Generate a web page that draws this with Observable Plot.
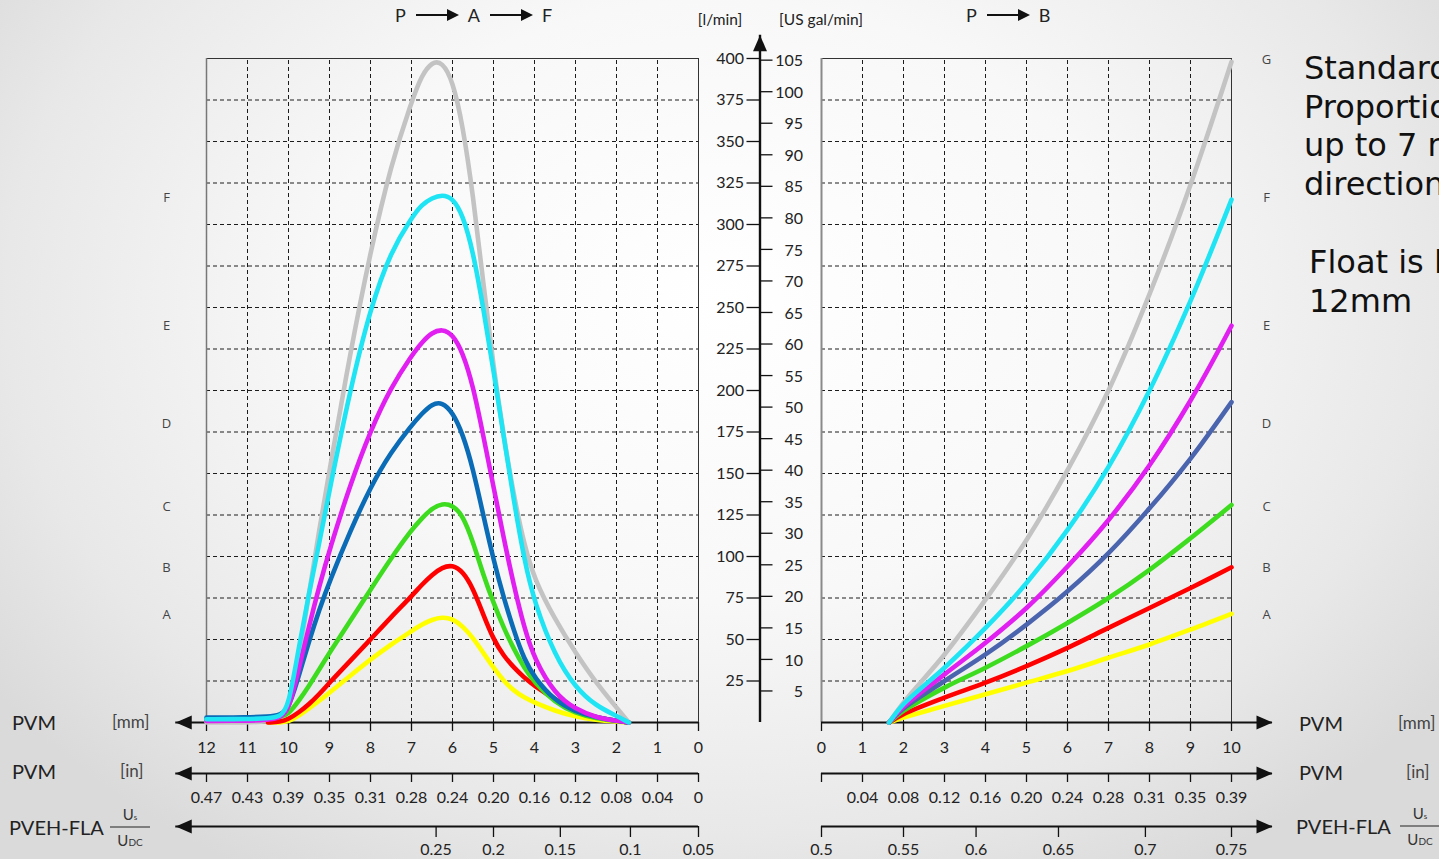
<!DOCTYPE html>
<html>
<head>
<meta charset="utf-8">
<script src="https://cdn.jsdelivr.net/npm/d3@7"></script>
<script src="https://cdn.jsdelivr.net/npm/@observablehq/plot@0.6"></script>
<style>
  html, body { margin: 0; padding: 0; }
  body {
    width: 1439px; height: 859px; overflow: hidden; position: relative;
    background: radial-gradient(ellipse 62% 78% at 50% 35%, #ffffff 0%, #f8f8f8 45%, #e8e8e8 80%, #dadada 100%);
    font-family: Lato, "Open Sans", sans-serif; color: #222;
  }
  #chart { position: absolute; left: 0; top: 0; }
  .lbl { position: absolute; white-space: nowrap; line-height: 1; transform: translateY(-50%); }
  .big { font-size: 20px; color: #222; }
  .unit { font-size: 17px; color: #444; }
  .frac { position: absolute; transform: translate(-50%, -50%); display: flex; flex-direction: column; align-items: center; font-size: 15px; line-height: 1; color: #333; }
  .frac .bar { width: 40px; border-top: 1.6px solid #222; margin: 5px 0 5px 0; }
  .frac small { font-size: 8px; }
  .frac .dc { font-size: 10px; }
  .title { position: absolute; top: 5px; height: 20px; display: flex; align-items: center; font-size: 18px; color: #222; }
  .arr { display: inline-block; position: relative; width: 31px; height: 2.5px; background: #111; margin: 0 21px 0 10px; }
  .arr::after { content: ""; position: absolute; left: 100%; top: 50%; transform: translateY(-50%);
    border-left: 12px solid #111; border-top: 6px solid transparent; border-bottom: 6px solid transparent; }
  .note { position: absolute; font-family: "DejaVu Sans", Verdana, sans-serif; font-size: 32px; line-height: 38.7px; color: #111; white-space: nowrap; }
</style>
</head>
<body>
<div id="chart"></div>

<div class="title" style="left:395px">P<span class="arr"></span>A<span class="arr"></span>F</div>
<div class="title" style="left:966px">P<span class="arr"></span>B</div>

<div class="lbl big" style="left:12px;top:722px">PVM</div>
<div class="lbl unit" style="left:112px;top:721px">[mm]</div>
<div class="lbl big" style="left:12px;top:771px">PVM</div>
<div class="lbl unit" style="left:120px;top:770px">[in]</div>
<div class="lbl big" style="left:9px;top:827px">PVEH-FLA</div>
<div class="frac" style="left:130px;top:827px"><span>U<small>s</small></span><span class="bar"></span><span>U<span class="dc">DC</span></span></div>

<div class="lbl big" style="left:1299px;top:723px">PVM</div>
<div class="lbl unit" style="left:1398px;top:722px">[mm]</div>
<div class="lbl big" style="left:1299px;top:772px">PVM</div>
<div class="lbl unit" style="left:1406px;top:771px">[in]</div>
<div class="lbl big" style="left:1296px;top:826px">PVEH-FLA</div>
<div class="frac" style="left:1420px;top:826px"><span>U<small>s</small></span><span class="bar"></span><span>U<span class="dc">DC</span></span></div>

<div class="note" style="left:1304px;top:49px">Standard<br>Proportional<br>up to 7 mm in each<br>direction</div>
<div class="note" style="left:1309px;top:243px">Float is located at<br>12mm</div>

<script>
// ---------- data ----------
const GAL_SCALE = 3.8; // l/min per US gal/min as laid out on the chart's axis

// P -> A -> F (left panel): spool travel in mm, flow in l/min
const L_MM  = [12, 11, 10.5, 10.2, 10, 9.75, 9.5, 9.25, 9, 8.5, 8, 7.5, 7, 6.75, 6.5, 6.25, 6, 5.75, 5.5, 5.25, 5, 4.75, 4.5, 4.25, 4, 3.5, 3, 2.5, 2, 1.7];
const leftG = [0, 0, 0.5, 2.5, 9, 38, 78, 116, 152, 222, 284, 336, 374, 390, 398, 398, 387, 360, 318, 265, 214, 172, 136, 107, 86, 62, 42, 24, 9, 0];
const leftF = [2, 2, 2.5, 3.5, 9, 45, 78, 108, 140, 200, 250, 284, 304, 312, 316, 318, 316, 306, 284, 250, 212, 172, 133, 98, 72, 40, 21, 10, 4, 0];
const leftE = [1, 1, 1.5, 3, 7, 32, 58, 82, 104, 143, 176, 202, 221, 229, 235, 237, 234, 223, 203, 173, 142, 111, 82, 57, 38, 17, 8, 3, 1, 0];
const leftD = [3, 3, 3.5, 4.5, 8, 28, 49, 68, 85, 115, 142, 163, 179, 186, 192, 193, 187, 174, 153, 125, 98, 75, 55, 38, 27, 13, 6.5, 3, 1, 0];
const leftC = [2, 2, 2.5, 3, 5, 13, 22, 32, 42, 61, 80, 99, 116, 123, 129, 132, 131, 125, 109, 89, 72, 57, 44, 33, 24, 12, 5.5, 2.5, 1, 0];
const leftB = [null, null, 0, 0.5, 2, 6, 11, 17, 24, 37, 50, 63.5, 76, 83, 89, 93.5, 95, 91, 81, 65, 50, 40, 33, 27, 22, 14, 7, 3, 1, 0];
const leftA = [null, null, 0, 0, 0.5, 4, 8.5, 13, 18, 28, 38, 47, 55, 59, 62, 63.5, 62.5, 58, 51, 42, 33, 25, 19, 15, 12, 7, 3.5, 1.5, 0.5, 0];

// P -> B (right panel)
const R_MM   = [1.65, 2, 3, 4, 5, 6, 7, 8, 9, 10];
const rightG = [0, 12, 41, 74, 110, 152, 200, 258, 324, 398];
const rightF = [0, 11, 33, 57, 84, 116, 154, 200, 254, 315];
const rightE = [0, 9.5, 29, 48, 69, 94, 122, 155, 194, 239];
const rightD = [0, 8.5, 25, 41, 59, 79, 102, 129, 159, 193];
const rightC = [0, 7, 21, 33, 46, 60, 75, 92, 111, 131];
const rightB = [0, 5, 15, 24, 34, 45, 57, 69, 81, 93.5];
const rightA = [0, 3, 10, 17, 24, 31, 39, 47, 56, 65.5];

const seriesKeys  = ["G", "F", "E", "D", "C", "B", "A"];
const leftColors  = ["#c3c3c3", "#1ee4f4", "#e01ff0", "#0a6bb6", "#3ddc1f", "#ff0000", "#ffff00"];
const rightColors = ["#c3c3c3", "#1ee4f4", "#e01ff0", "#4b64ae", "#3ddc1f", "#ff0000", "#ffff00"];
const labelFlow   = [399, 316, 239, 180, 130, 93, 65];   // flow level of the G..A side letters

// axes
const lpmTicks = d3.range(25, 401, 25);
const galTicks = d3.range(5, 106, 5);
const mmLeft  = d3.range(0, 13);
const mmRight = d3.range(0, 11);
const inLeft  = ["0", "0.04", "0.08", "0.12", "0.16", "0.20", "0.24", "0.28", "0.31", "0.35", "0.39", "0.43", "0.47"];
const inRight = ["", "0.04", "0.08", "0.12", "0.16", "0.20", "0.24", "0.28", "0.31", "0.35", "0.39"];
const pvehLeftVal  = ["0.25", "0.2", "0.15", "0.1", "0.05"];
const pvehLeftMm   = [6.4, 5.0, 3.37, 1.66, 0];
const pvehRightVal = ["0.5", "0.55", "0.6", "0.65", "0.7", "0.75"];
const pvehRightMm  = [0, 2.0, 3.77, 5.78, 7.9, 10];

// ---------- layout helpers ----------
const uL = mm => 12 - mm;      // left panel: travel runs right -> left
const uR = mm => 15 + mm;      // right panel
const U_AXIS = 13.5;           // central flow axis
const ARROW_L = 12.75, ARROW_R = 11, ARROW_UP = 414;
const ROW_DY = [0, 51, 104];   // mm, in, PVEH rows

const leftVals  = [leftG, leftF, leftE, leftD, leftC, leftB, leftA];
const rightVals = [rightG, rightF, rightE, rightD, rightC, rightB, rightA];
const mk = (mmArr, vals, f) => mmArr.map((m, i) => ({u: f(m), q: vals[i]})).filter(d => d.q != null);

const headLeft  = {draw(c) { c.moveTo(0, 0); c.lineTo(16, -7); c.lineTo(16, 7); c.closePath(); }};
const headRight = {draw(c) { c.moveTo(0, 0); c.lineTo(-16, -7); c.lineTo(-16, 7); c.closePath(); }};
const headUp    = {draw(c) { c.moveTo(0, 0); c.lineTo(-7, 16); c.lineTo(7, 16); c.closePath(); }};

const grid = {stroke: "#1c1c1c", strokeWidth: 1, strokeDasharray: "4,3"};
const ax = {stroke: "#111", strokeWidth: 2};
const tk = {stroke: "#111", strokeWidth: 1.3};
const lab = {fontSize: 16, fill: "#222"};

const marks = [
  // dashed grid
  Plot.ruleX(d3.range(1, 12), {x: uL, y1: 0, y2: 400, ...grid}),
  Plot.ruleX(d3.range(1, 10), {x: uR, y1: 0, y2: 400, ...grid}),
  Plot.ruleY(lpmTicks.filter(v => v < 400), {y: d => d, x1: uL(12), x2: uL(0), ...grid}),
  Plot.ruleY(lpmTicks.filter(v => v < 400), {y: d => d, x1: uR(0), x2: uR(10), ...grid}),
  // frames
  Plot.ruleY([400], {x1: uL(12), x2: uL(0), stroke: "#333", strokeWidth: 1}),
  Plot.ruleY([400], {x1: uR(0), x2: uR(10), stroke: "#333", strokeWidth: 1}),
  Plot.ruleX([12], {x: uL, y1: 0, y2: 400, stroke: "#777", strokeWidth: 1.5}),
  Plot.ruleX([0], {x: uL, y1: 0, y2: 400, stroke: "#333", strokeWidth: 1}),
  Plot.ruleX([0], {x: uR, y1: 0, y2: 400, stroke: "#8a8a8a", strokeWidth: 2}),
  Plot.ruleX([10], {x: uR, y1: 0, y2: 400, stroke: "#333", strokeWidth: 1}),
];

// bottom axes rows
ROW_DY.forEach(dy => {
  marks.push(
    Plot.ruleY([0], {x1: uL(0), x2: uL(ARROW_L), dy, ...ax}),
    Plot.ruleY([0], {x1: uR(0), x2: uR(ARROW_R), dy, ...ax}),
    Plot.dot([ARROW_L], {x: uL, y: 0, dy, symbol: headLeft, r: 3, fill: "#111", stroke: "none"}),
    Plot.dot([ARROW_R], {x: uR, y: 0, dy, symbol: headRight, r: 3, fill: "#111", stroke: "none"})
  );
});
// ticks and tick labels
marks.push(
  Plot.ruleX(mmLeft,  {x: uL, y1: 0, y2: 0, insetBottom: -9, ...tk}),
  Plot.ruleX(mmRight, {x: uR, y1: 0, y2: 0, insetBottom: -9, ...tk}),
  Plot.ruleX(mmLeft,  {x: uL, y1: 0, y2: 0, insetBottom: -9, dy: ROW_DY[1], ...tk}),
  Plot.ruleX(mmRight, {x: uR, y1: 0, y2: 0, insetBottom: -9, dy: ROW_DY[1], ...tk}),
  Plot.ruleX(pvehLeftMm,  {x: uL, y1: 0, y2: 0, insetBottom: -11, dy: ROW_DY[2], ...tk}),
  Plot.ruleX(pvehRightMm, {x: uR, y1: 0, y2: 0, insetBottom: -11, dy: ROW_DY[2], ...tk}),
  Plot.text(mmLeft,  {x: uL, y: 0, text: d => String(d), dy: 25, ...lab}),
  Plot.text(mmRight, {x: uR, y: 0, text: d => String(d), dy: 25, ...lab}),
  Plot.text(mmLeft,  {x: uL, y: 0, text: (d, i) => inLeft[i], dy: 75, ...lab}),
  Plot.text(mmRight, {x: uR, y: 0, text: (d, i) => inRight[i], dy: 75, ...lab}),
  Plot.text(pvehLeftMm,  {x: uL, y: 0, text: (d, i) => pvehLeftVal[i], dy: 127, ...lab}),
  Plot.text(pvehRightMm, {x: uR, y: 0, text: (d, i) => pvehRightVal[i], dy: 127, ...lab})
);

// central flow axis
marks.push(
  Plot.ruleX([U_AXIS], {x: d => d, y1: 0, y2: ARROW_UP, stroke: "#111", strokeWidth: 2.4}),
  Plot.dot([ARROW_UP], {x: U_AXIS, y: d => d, symbol: headUp, r: 3, fill: "#111", stroke: "none"}),
  Plot.ruleY(lpmTicks, {y: d => d, x1: U_AXIS, x2: U_AXIS, insetLeft: -13, ...tk}),
  Plot.ruleY(galTicks, {y: d => d * GAL_SCALE, x1: U_AXIS, x2: U_AXIS, insetRight: -13, ...tk}),
  Plot.text(lpmTicks, {x: U_AXIS, y: d => d, text: d => String(d), textAnchor: "end", dx: -16, ...lab}),
  Plot.text(galTicks, {x: U_AXIS, y: d => d * GAL_SCALE, text: d => String(d), textAnchor: "end", dx: 43, dy: 1, ...lab}),
  Plot.text(["[l/min]"], {x: U_AXIS, frameAnchor: "top", dx: -40, dy: -45, fontSize: 15.5, fill: "#222"}),
  Plot.text(["[US gal/min]"], {x: U_AXIS, frameAnchor: "top", dx: 61, dy: -45, fontSize: 15.5, fill: "#222"})
);

// curves (gray first, then A..F on top)
const order = [0, 6, 5, 4, 3, 2, 1];
order.forEach(i => {
  marks.push(Plot.line(mk(L_MM, leftVals[i], uL), {x: "u", y: "q", stroke: leftColors[i], strokeWidth: 4.6, curve: "basis"}));
});
order.forEach(i => {
  marks.push(Plot.line(mk(R_MM, rightVals[i], uR), {x: "u", y: "q", stroke: rightColors[i], strokeWidth: 4.6, curve: "catmull-rom"}));
});

// series letters
const letterRows = seriesKeys.map((k, i) => ({k, q: labelFlow[i]}));
marks.push(
  Plot.text(letterRows.filter(d => d.k !== "G"), {x: uL(12), y: "q", text: "k", dx: -40, fontSize: 13, fill: "#444", fontFamily: "Open Sans"}),
  Plot.text(letterRows, {x: uR(10), y: "q", text: "k", dx: 35, fontSize: 13, fill: "#444", fontFamily: "Open Sans"})
);

const chart = Plot.plot({
  width: 1439,
  height: 859,
  marginLeft: 206,
  marginRight: 208,
  marginTop: 58,
  marginBottom: 137,
  x: {domain: [0, 25], axis: null},
  y: {domain: [0, 400], axis: null},
  style: {background: "transparent", fontFamily: "Lato, sans-serif", overflow: "visible"},
  marks
});
document.getElementById("chart").appendChild(chart);
</script>
</body>
</html>
